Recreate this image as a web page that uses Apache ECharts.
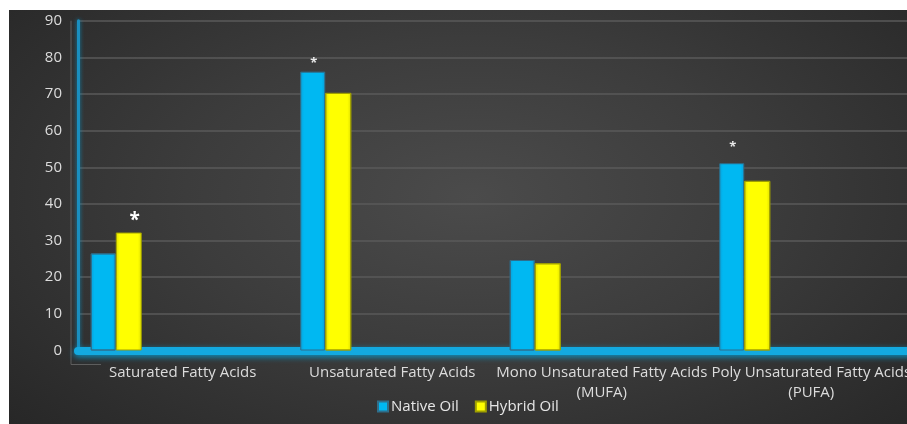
<!DOCTYPE html>
<html>
<head>
<meta charset="utf-8">
<script src="https://cdn.jsdelivr.net/npm/echarts@6/dist/echarts.min.js"></script>
<style>
  html, body { margin: 0; padding: 0; background: #ffffff; width: 907px; height: 424px; overflow: hidden; position: relative; }
  #chart {
    position: absolute; left: 9px; top: 10px; width: 907px; height: 414px;
    background: radial-gradient(ellipse 70% 85% at 51% 45%, #4b4b4b 0%, #3c3c3c 45%, #262626 100%);
  }
</style>
</head>
<body>
<div id="chart"></div>
<script>
// Fatty acid composition (%) of native vs hybrid oil
const categories = [
  'Saturated Fatty Acids',
  'Unsaturated Fatty Acids',
  'Mono Unsaturated Fatty Acids\n(MUFA)',
  'Poly Unsaturated Fatty Acids\n(PUFA)'
];
const nativeOil = [26.5, 76.1, 24.7, 51.1];
const hybridOil = [32.2, 70.3, 23.8, 46.3];
// significance markers (1 = marked with an asterisk)
const nativeSig = [0, 1, 0, 1];
const hybridSig = [1, 0, 0, 0];
const yTicks = { min: 0, max: 90, interval: 10 };

const font = '"Open Sans", Lato, sans-serif';

// per-category spacing of the asterisk above its bar
const starGap = [2, 2, 0, 9];

function withStars(values, sig, big) {
  return values.map((v, i) => sig[i] ? {
    value: v,
    label: {
      show: true, position: 'top', formatter: '*',
      color: big ? '#ffffff' : '#e8e8e8',
      fontSize: big ? 19 : 13, fontWeight: 'bold', fontFamily: font,
      distance: starGap[i], offset: big ? [6, 0] : [1, 0]
    }
  } : v);
}

const blueFill = {
  type: 'linear', x: 0, y: 0, x2: 1, y2: 0,
  colorStops: [
    { offset: 0, color: '#0a9fd8' }, { offset: 0.15, color: '#00b8f2' },
    { offset: 0.85, color: '#00b8f2' }, { offset: 1, color: '#0a9fd8' }
  ]
};
const yellowFill = {
  type: 'linear', x: 0, y: 0, x2: 1, y2: 0,
  colorStops: [
    { offset: 0, color: '#e0e000' }, { offset: 0.15, color: '#ffff00' },
    { offset: 0.85, color: '#ffff00' }, { offset: 1, color: '#e0e000' }
  ]
};

const chart = echarts.init(document.getElementById('chart'), null, { renderer: 'canvas' });
chart.setOption({
  animation: false,
  grid: { left: 69, right: 0, top: 10.7, bottom: 73.5, containLabel: false },
  legend: {
    data: ['Native Oil', 'Hybrid Oil'],
    left: 363, top: 384,
    icon: 'rect', itemWidth: 10, itemHeight: 10, itemGap: 16,
    textStyle: { color: '#e6e6e6', fontSize: 15, fontFamily: font, padding: [0, 0, 0, -2] }
  },
  xAxis: {
    type: 'category',
    data: categories,
    axisTick: { show: false },
    axisLine: {
      show: true,
      lineStyle: { color: '#13a9e0', width: 8, shadowColor: 'rgba(0,170,230,0.8)', shadowBlur: 6, shadowOffsetY: 2 }
    },
    axisLabel: {
      color: '#dcdcdc', fontSize: 15, fontFamily: font, margin: 12, lineHeight: 20,
      interval: 0
    }
  },
  yAxis: {
    type: 'value',
    min: yTicks.min, max: yTicks.max, interval: yTicks.interval,
    axisLine: {
      show: true,
      lineStyle: { color: '#1a8fc0', width: 3, shadowColor: 'rgba(0,160,220,0.7)', shadowBlur: 4 }
    },
    axisTick: { show: false },
    splitLine: { lineStyle: { color: '#5a5a5a', width: 1.5 } },
    axisLabel: { color: '#dcdcdc', fontSize: 15, fontFamily: font, margin: 16 }
  },
  series: [
    {
      name: 'Native Oil', type: 'bar', barWidth: 25, barGap: '0%',
      data: withStars(nativeOil, nativeSig, false),
      itemStyle: { color: blueFill, borderColor: '#2f6f8c', borderWidth: 1 },
      z: 3
    },
    {
      name: 'Hybrid Oil', type: 'bar', barWidth: 26, barGap: '0%',
      data: withStars(hybridOil, hybridSig, true),
      itemStyle: { color: yellowFill, borderColor: '#a0a000', borderWidth: 1 },
      z: 3
    },
    {
      // empty slot that keeps each pair at the left of its category band
      name: 'spacer', type: 'bar', barWidth: 133, barGap: '0%',
      data: categories.map(() => '-'),
      silent: true, itemStyle: { color: 'transparent' }
    }
  ]
});

// thin depth frame to the left of and under the plot
const origin = chart.convertToPixel({ xAxisIndex: 0, yAxisIndex: 0 }, [0, 0]);
const topPt = chart.convertToPixel({ yAxisIndex: 0 }, yTicks.max);
const frameX = 62, frameY = origin[1] + 14;
chart.setOption({
  graphic: [
    { type: 'line', shape: { x1: frameX, y1: topPt, x2: frameX, y2: frameY },
      style: { stroke: '#5e5e5e', lineWidth: 1 }, silent: true },
    { type: 'line', shape: { x1: frameX, y1: frameY, x2: frameX + 30, y2: frameY },
      style: { stroke: '#5e5e5e', lineWidth: 1 }, silent: true }
  ]
});
</script>
</body>
</html>
